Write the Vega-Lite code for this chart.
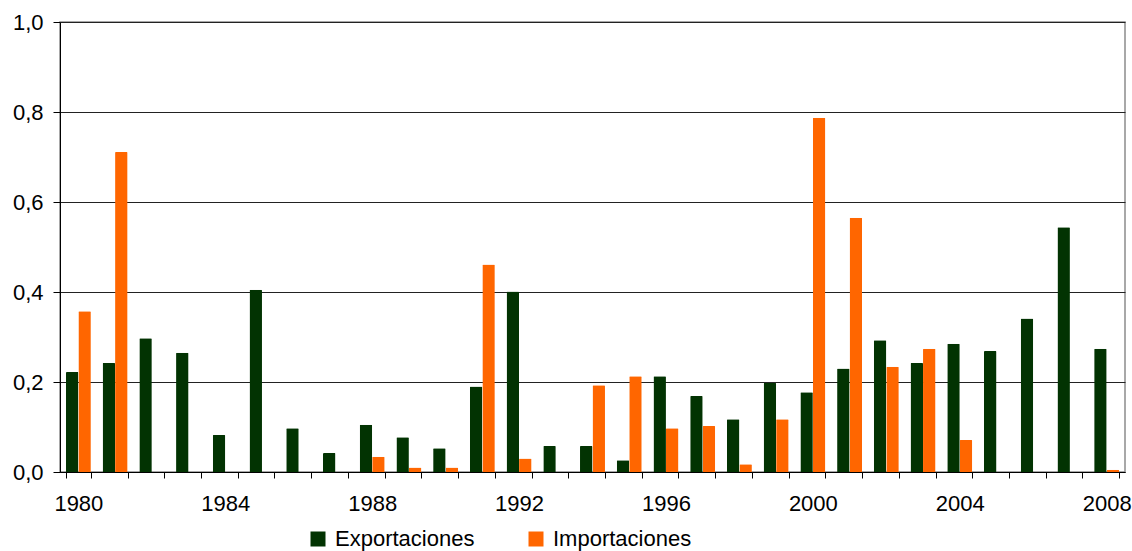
{
  "$schema": "https://vega.github.io/schema/vega-lite/v6.json",
  "autosize": {"type": "none"},
  "padding": {"left": 60, "top": 22, "right": 7, "bottom": 79},
  "width": 1065,
  "height": 450,
  "data": {
    "values": [
      {"year": 1980, "serie": "Exportaciones", "value": 0.222},
      {"year": 1980, "serie": "Importaciones", "value": 0.357},
      {"year": 1981, "serie": "Exportaciones", "value": 0.242},
      {"year": 1981, "serie": "Importaciones", "value": 0.711},
      {"year": 1982, "serie": "Exportaciones", "value": 0.297},
      {"year": 1983, "serie": "Exportaciones", "value": 0.265},
      {"year": 1984, "serie": "Exportaciones", "value": 0.082},
      {"year": 1985, "serie": "Exportaciones", "value": 0.405},
      {"year": 1986, "serie": "Exportaciones", "value": 0.097},
      {"year": 1987, "serie": "Exportaciones", "value": 0.042},
      {"year": 1988, "serie": "Exportaciones", "value": 0.105},
      {"year": 1988, "serie": "Importaciones", "value": 0.034},
      {"year": 1989, "serie": "Exportaciones", "value": 0.077},
      {"year": 1989, "serie": "Importaciones", "value": 0.01},
      {"year": 1990, "serie": "Exportaciones", "value": 0.053},
      {"year": 1990, "serie": "Importaciones", "value": 0.01},
      {"year": 1991, "serie": "Exportaciones", "value": 0.19},
      {"year": 1991, "serie": "Importaciones", "value": 0.461},
      {"year": 1992, "serie": "Exportaciones", "value": 0.401},
      {"year": 1992, "serie": "Importaciones", "value": 0.03},
      {"year": 1993, "serie": "Exportaciones", "value": 0.058},
      {"year": 1994, "serie": "Exportaciones", "value": 0.058},
      {"year": 1994, "serie": "Importaciones", "value": 0.193},
      {"year": 1995, "serie": "Exportaciones", "value": 0.026},
      {"year": 1995, "serie": "Importaciones", "value": 0.213},
      {"year": 1996, "serie": "Exportaciones", "value": 0.213},
      {"year": 1996, "serie": "Importaciones", "value": 0.097},
      {"year": 1997, "serie": "Exportaciones", "value": 0.169},
      {"year": 1997, "serie": "Importaciones", "value": 0.102},
      {"year": 1998, "serie": "Exportaciones", "value": 0.117},
      {"year": 1998, "serie": "Importaciones", "value": 0.017},
      {"year": 1999, "serie": "Exportaciones", "value": 0.198},
      {"year": 1999, "serie": "Importaciones", "value": 0.117},
      {"year": 2000, "serie": "Exportaciones", "value": 0.177},
      {"year": 2000, "serie": "Importaciones", "value": 0.787},
      {"year": 2001, "serie": "Exportaciones", "value": 0.23},
      {"year": 2001, "serie": "Importaciones", "value": 0.565},
      {"year": 2002, "serie": "Exportaciones", "value": 0.293},
      {"year": 2002, "serie": "Importaciones", "value": 0.234},
      {"year": 2003, "serie": "Exportaciones", "value": 0.242},
      {"year": 2003, "serie": "Importaciones", "value": 0.274},
      {"year": 2004, "serie": "Exportaciones", "value": 0.285},
      {"year": 2004, "serie": "Importaciones", "value": 0.071},
      {"year": 2005, "serie": "Exportaciones", "value": 0.269},
      {"year": 2006, "serie": "Exportaciones", "value": 0.341},
      {"year": 2007, "serie": "Exportaciones", "value": 0.544},
      {"year": 2008, "serie": "Exportaciones", "value": 0.274},
      {"year": 2008, "serie": "Importaciones", "value": 0.005}
    ]
  },
  "mark": {"type": "bar", "cornerRadiusTopLeft": 1, "cornerRadiusTopRight": 1},
  "encoding": {
    "x": {
      "field": "year",
      "type": "ordinal",
      "title": null,
      "scale": {"paddingInner": 0.32, "paddingOuter": 0.16},
      "axis": {
        "labelAngle": 0,
        "tickBand": "extent",
        "labelExpr": "datum.value % 4 == 0 ? datum.label : ''",
        "domainColor": "#000000",
        "tickColor": "#000000",
        "tickSize": 6,
        "labelPadding": 15,
        "labelFont": "Liberation Sans",
        "labelFontSize": 22,
        "labelColor": "#000000",
        "grid": false
      }
    },
    "xOffset": {"field": "serie", "type": "nominal", "scale": {"paddingInner": 0, "paddingOuter": 0}},
    "y": {
      "field": "value",
      "type": "quantitative",
      "title": null,
      "scale": {"domain": [0, 1], "nice": false},
      "axis": {
        "values": [0, 0.2, 0.4, 0.6, 0.8, 1.0],
        "labelExpr": "replace(format(datum.value, '.1f'), '.', ',')",
        "domainColor": "#000000",
        "tickColor": "#000000",
        "tickSize": 7,
        "labelPadding": 10,
        "labelFont": "Liberation Sans",
        "labelFontSize": 22,
        "labelColor": "#000000",
        "grid": true,
        "gridColor": "#222222",
        "gridWidth": 1
      }
    },
    "color": {
      "field": "serie",
      "type": "nominal",
      "title": null,
      "scale": {"domain": ["Exportaciones", "Importaciones"], "range": ["#023302", "#ff6600"]},
      "legend": {
        "orient": "none",
        "direction": "horizontal",
        "legendX": 247,
        "legendY": 506,
        "symbolType": "square",
        "symbolSize": 225,
        "symbolStrokeWidth": 0,
        "labelFont": "Liberation Sans",
        "labelFontSize": 22,
        "labelColor": "#000000",
        "labelOffset": 6,
        "columnPadding": 50,
        "labelLimit": 300
      }
    }
  },
  "config": {
    "view": {"stroke": "#8c8c8c", "strokeWidth": 1.5},
    "axis": {"domainWidth": 1, "tickWidth": 1}
  }
}
